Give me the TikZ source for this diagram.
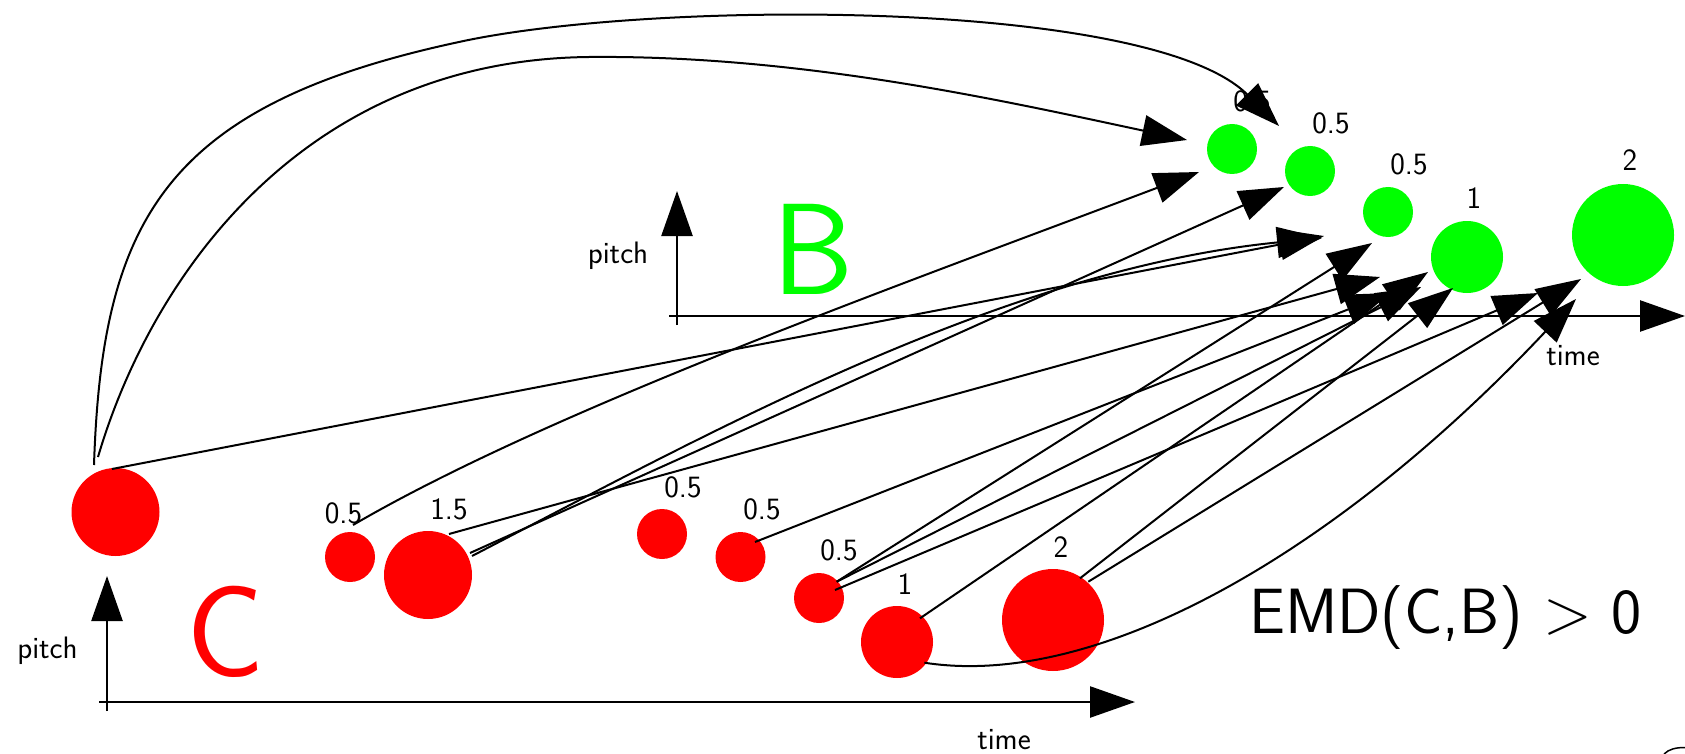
\documentclass[tikz,border=0pt]{standalone}
\usepackage{fontspec}
\usepackage{graphicx}
\usetikzlibrary{arrows.meta,calc}
\definecolor{cred}{RGB}{255,0,0}
\definecolor{cgreen}{RGB}{0,255,0}
\newcommand{\biggt}{\scalebox{2.572}{\fontsize{24.88}{30}\selectfont$>$}}
\begin{document}
\begin{tikzpicture}[x=1pt,y=-1pt,
  note/.style={circle,inner sep=0pt,outer sep=0pt,minimum size=#1},
  rnote/.style={note=#1,fill=cred},
  gnote/.style={note=#1,fill=cgreen},
  bigtip/.style={-{Triangle[length=45pt,width=31pt]}},
  flow/.style={line width=2pt,bigtip},
  axisline/.style={line width=2.5pt},
  axisarrow/.style={line width=2.5pt,bigtip},
  lbl/.style={font=\fontsize{31}{36}\selectfont\sffamily,inner sep=0pt,anchor=base},
  bigletter/.style={font=\fontsize{130}{140}\selectfont\sffamily,inner sep=0pt},
]
\useasboundingbox (0,0) rectangle (1685,754);

% axes of C
\coordinate (Cyb) at (107,711);
\coordinate (Cyt) at (107,576);
\coordinate (Cxl) at (99,702);
\coordinate (Cxt) at (1135,702);
\draw[axisarrow] (Cyb) -- (Cyt);
\draw[axisarrow] (Cxl) -- (Cxt);
% axes of B
\coordinate (Byb) at (677,325);
\coordinate (Byt) at (677,191);
\coordinate (Bxl) at (669,316);
\coordinate (Bxt) at (1685,316);
\draw[axisarrow] (Byb) -- (Byt);
\draw[axisarrow] (Bxl) -- (Bxt);

\node[lbl] (Cpitch) at (47.5,658) {pitch};
\node[lbl] (Ctime) at (1004,749) {time};
\node[lbl] (Bpitch) at (618,263) {pitch};
\node[lbl] (Btime) at (1573,365) {time};

\node[bigletter,text=cred] (Cname) at (226,632) {C};
\node[bigletter,text=cgreen] (Bname) at (813,249) {B};

\node[font=\fontsize{64}{70}\selectfont\sffamily,inner sep=0pt,anchor=base west] (emd) at (1249,633) {EMD(C,B) \biggt{} 0};

% notes of C
\node[rnote=88pt] (R1) at (115.5,512) {};
\node[rnote=50pt] (R2) at (350,557) {};
\node[rnote=88pt] (R3) at (428,575) {};
\node[rnote=50pt] (R4) at (662,534) {};
\node[rnote=50pt] (R5) at (740.5,557) {};
\node[rnote=50pt] (R6) at (819,598) {};
\node[rnote=72pt] (R7) at (897,642) {};
\node[rnote=102pt] (R8) at (1053,620) {};
% notes of B
\node[gnote=50pt] (G1) at (1232,149) {};
\node[gnote=50pt] (G2) at (1310,171) {};
\node[gnote=50pt] (G3) at (1388,212) {};
\node[gnote=72pt] (G4) at (1467,257) {};
\node[gnote=102pt] (G5) at (1623,235) {};

% weights
\node[lbl] (wR2) at (343.5,523) {0.5};
\node[lbl] (wR3) at (449,519) {1.5};
\node[lbl] (wR4) at (683,497) {0.5};
\node[lbl] (wR5) at (762,519) {0.5};
\node[lbl] (wR6) at (839,560) {0.5};
\node[lbl] (wR7) at (905,594) {1};
\node[lbl] (wR8) at (1061,557) {2};
\node[lbl] (wG1) at (1252,112) {0.5};
\node[lbl] (wG2) at (1331,134) {0.5};
\node[lbl] (wG3) at (1409,175) {0.5};
\node[lbl] (wG4) at (1474,208) {1};
\node[lbl] (wG5) at (1630,171) {2};

% arrow tips
\coordinate (t1) at (1279,126);
\coordinate (t2) at (1187,140);
\coordinate (t3) at (1324,236);
\coordinate (t4) at (1199,172);
\coordinate (t5) at (1284,187);
\coordinate (t6) at (1322,238);
\coordinate (t7) at (1380,277);
\coordinate (t8) at (1390,293);
\coordinate (t9) at (1372,243);
\coordinate (t10) at (1421,287);
\coordinate (t11) at (1538,293);
\coordinate (t12) at (1428,272);
\coordinate (t13) at (1453,288);
\coordinate (t14) at (1581,279);
\coordinate (t15) at (1576,299);

% flows
\draw[flow] ($(R1)+(-21.5,-47)$) .. controls (102,220) and (165,105) .. (459,42)
   .. controls (650,0) and (1150,-2) .. (t1);
\draw[flow] ($(R1)+(-17.5,-55)$) .. controls (150,280) and (300,60) .. (589,57)
   .. controls (800,55) and (1000,100) .. (t2);
\draw[flow] ($(R1)+(-3.5,-43)$) -- (t3);
\draw[flow] ($(R2)+(3,-32)$) .. controls (550,410) and (900,285) .. (t4);
\draw[flow] ($(R3)+(42,-22)$) -- (t5);
\draw[flow] ($(R3)+(44,-19)$) .. controls (700,438) and (1000,270) .. (t6);
\draw[flow] ($(R3)+(21,-41)$) -- (t7);
\draw[flow] ($(R5)+(14.5,-15)$) -- (t8);
\draw[flow] ($(R6)+(17.7,-16.3)$) -- (t9);
\draw[flow] ($(R6)+(17.7,-16.3)$) -- (t10);
\draw[flow] ($(R6)+(16,-8)$) -- (t11);
\draw[flow] ($(R7)+(23,-23.7)$) -- (t12);
\draw[flow] ($(R7)+(27.4,20.7)$) .. controls (1100,690) and (1340,550) .. (t15);
\draw[flow] ($(R8)+(27,-41.7)$) -- (t13);
\draw[flow] ($(R8)+(35.3,-38.3)$) -- (t14);

% partial glyph at the corner
\draw[line width=1.5pt] (1664,754) .. controls (1669,749) and (1676,747.5) .. (1685,747.5);
\end{tikzpicture}
\end{document}
